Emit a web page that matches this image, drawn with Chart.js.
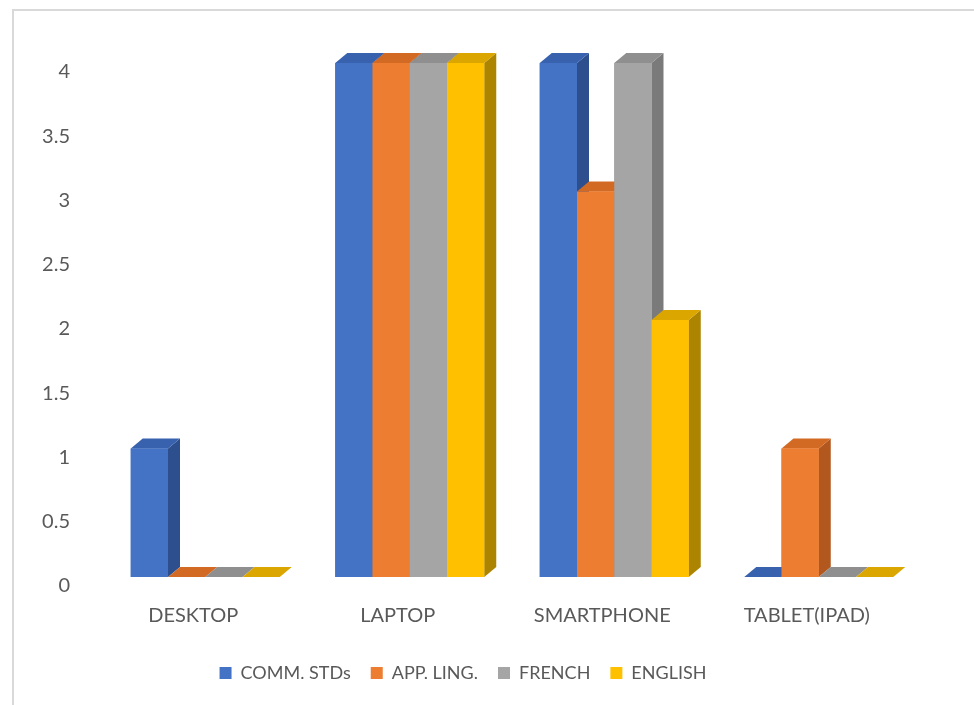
<!DOCTYPE html>
<html><head><meta charset="utf-8">
<script src="https://cdn.jsdelivr.net/npm/chart.js@4"></script>
<style>html,body{margin:0;padding:0;background:#fff;overflow:hidden}#wrap{width:974px;height:705px;position:relative}</style>
</head><body><div id="wrap"><canvas id="c" width="974" height="705"></canvas></div>
<script>
// ---- data ----
const categories = ['DESKTOP', 'LAPTOP', 'SMARTPHONE', 'TABLET(IPAD)'];
const seriesNames = ['COMM. STDs', 'APP. LING.', 'FRENCH', 'ENGLISH'];
const commStds = [1, 4, 4, 0];
const appLing = [0, 4, 3, 1];
const french = [0, 4, 4, 0];
const english = [0, 4, 2, 0];
const yTickValues = [0, 0.5, 1, 1.5, 2, 2.5, 3, 3.5, 4];
const yTickLabels = ['0', '0.5', '1', '1.5', '2', '2.5', '3', '3.5', '4'];

// ---- style ----
const frontColors = ['#4472C4', '#ED7D31', '#A5A5A5', '#FFC000'];
const topColors = ['#3862AE', '#D36A24', '#8F8F8F', '#DCA600'];
const sideColors = ['#2D4F8E', '#B2581E', '#7A7A7A', '#AD8400'];
const FONT = 'Lato, "Open Sans", sans-serif';
const TXT = '#595959';
const DX = 12, DY = 10;

const seriesValues = [commStds, appLing, french, english];

const depth3d = {
  id: 'depth3d',
  afterDatasetsDraw(chart) {
    const ctx = chart.ctx;
    const poly = (pts) => { ctx.beginPath(); ctx.moveTo(pts[0][0], pts[0][1]); for (let k = 1; k < pts.length; k++) ctx.lineTo(pts[k][0], pts[k][1]); ctx.closePath(); ctx.fill(); };
    ctx.save();
    for (let j = 0; j < chart.data.labels.length; j++) {
      chart.data.datasets.forEach((ds, i) => {
        const el = chart.getDatasetMeta(i).data[j];
        if (!el) return;
        const p = el.getProps(['x', 'y', 'base', 'width'], true);
        const l = p.x - p.width / 2, r = p.x + p.width / 2;
        ctx.fillStyle = sideColors[i];
        poly([[r, p.y], [r + DX, p.y - DY], [r + DX, p.base - DY], [r, p.base]]);
        ctx.fillStyle = topColors[i];
        poly([[l, p.y], [l + DX, p.y - DY], [r + DX, p.y - DY], [r, p.y]]);
        ctx.fillStyle = frontColors[i];
        ctx.fillRect(l, p.y, p.width, p.base - p.y);
      });
    }
    ctx.restore();
  }
};

const frame = {
  id: 'frame',
  beforeDraw(chart) {
    const ctx = chart.ctx;
    ctx.save();
    ctx.fillStyle = '#fff';
    ctx.fillRect(0, 0, chart.width, chart.height);
    ctx.strokeStyle = '#D9D9D9';
    ctx.lineWidth = 2;
    ctx.strokeRect(13, 10, 1000, 1000);
    ctx.restore();
  },
  afterLayout(chart) {
    const lg = chart.legend;
    if (!lg) return;
    const w = lg.right - lg.left;
    lg.left = 463 - w / 2;
    lg.right = 463 + w / 2;
  }
};

new Chart(document.getElementById('c'), {
  type: 'bar',
  data: {
    labels: categories,
    datasets: seriesNames.map((name, i) => ({
      label: name,
      data: seriesValues[i],
      backgroundColor: frontColors[i],
      borderWidth: 0,
      categoryPercentage: 0.7286,
      barPercentage: 1
    }))
  },
  options: {
    responsive: false,
    animation: false,
    layout: { padding: { left: 40, right: 53, top: 63, bottom: 13 } },
    plugins: {
      legend: {
        position: 'bottom',
        labels: { boxWidth: 12, boxHeight: 12, padding: 20, color: TXT, font: { family: FONT, size: 18 } }
      },
      tooltip: { enabled: false }
    },
    scales: {
      x: {
        grid: { display: false, drawTicks: false },
        border: { display: false },
        ticks: { color: TXT, font: { family: FONT, size: 20 }, padding: 27, labelOffset: -12 },
        afterFit(s) { s.height = 67; }
      },
      y: {
        min: 0, max: 4,
        grid: { display: false, drawTicks: false },
        border: { display: false },
        ticks: {
          color: TXT, font: { family: FONT, size: 20 }, padding: 33, labelOffset: 9, stepSize: 0.5,
          callback: (v) => yTickLabels[yTickValues.indexOf(v)] ?? String(v)
        },
        afterBuildTicks(s) { s.ticks = yTickValues.map(v => ({ value: v })); },
        afterFit(s) { s.width = 63; }
      }
    }
  },
  plugins: [frame, depth3d]
});
</script>
</body></html>
